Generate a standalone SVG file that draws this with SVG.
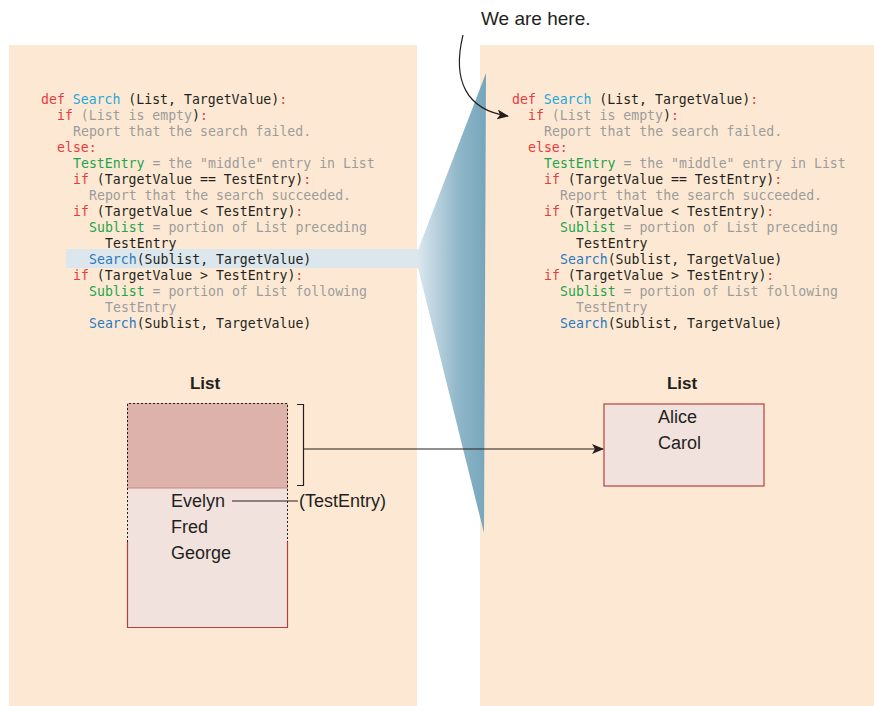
<svg xmlns="http://www.w3.org/2000/svg" width="874" height="706" viewBox="0 0 874 706">
<defs>
<linearGradient id="fun" x1="0" y1="0" x2="1" y2="0">
<stop offset="0" stop-color="#dbe7ef"/>
<stop offset="0.6" stop-color="#8fb6c9"/>
<stop offset="1" stop-color="#76a6bc"/>
</linearGradient>
<marker id="ah" markerWidth="12" markerHeight="10" refX="11" refY="5" orient="auto" markerUnits="userSpaceOnUse">
<path d="M0,0 L12,5 L0,10 L3,5 Z" fill="#231f20"/>
</marker>
<style>
.code{font-family:"DejaVu Sans Mono","Liberation Mono",monospace;font-size:13.2px;fill:#231f20}
.r{fill:#ea3a40}.c{fill:#1fa8dc}.g{fill:#1ba54c}.b{fill:#2a79c0}.k{fill:#9c9c9c}.d{fill:#231f20}
.lbl{font-family:"Liberation Sans",Arial,sans-serif;font-size:18px;fill:#231f20}
.hd{font-family:"Liberation Sans",Arial,sans-serif;font-size:17px;font-weight:bold;fill:#231f20}
.panel{fill:#fde9d3}
</style>
</defs>
<rect width="874" height="706" fill="#ffffff"/>
<rect class="panel" x="9" y="45" width="408" height="661"/>
<rect class="panel" x="480" y="45" width="394" height="661"/>
<rect x="66" y="249" width="352" height="19" fill="#dce6ed"/>
<polygon points="418,250 486,73 484,533 418,268" fill="url(#fun)"/>

<g id="code-left" class="code" xml:space="preserve">
<text x="41" y="104"><tspan class="r">def</tspan> <tspan class="c">Search</tspan> (List, TargetValue)<tspan class="r">:</tspan></text>
<text x="57" y="120"><tspan class="r">if</tspan> <tspan class="k">(List is empty</tspan>)<tspan class="r">:</tspan></text>
<text x="73" y="136" class="k">Report that the search failed.</text>
<text x="57" y="152" class="r">else:</text>
<text x="73" y="168"><tspan class="g">TestEntry</tspan><tspan class="k"> = the "middle" entry in List</tspan></text>
<text x="73" y="184"><tspan class="r">if</tspan> (TargetValue == TestEntry)<tspan class="r">:</tspan></text>
<text x="89" y="200" class="k">Report that the search succeeded.</text>
<text x="73" y="216"><tspan class="r">if</tspan> (TargetValue &lt; TestEntry)<tspan class="r">:</tspan></text>
<text x="89" y="232"><tspan class="g">Sublist</tspan><tspan class="k"> = portion of List preceding</tspan></text>
<text x="105" y="248">TestEntry</text>
<text x="89" y="264"><tspan class="b">Search</tspan>(Sublist, TargetValue)</text>
<text x="73" y="280"><tspan class="r">if</tspan> (TargetValue &gt; TestEntry)<tspan class="r">:</tspan></text>
<text x="89" y="296"><tspan class="g">Sublist</tspan><tspan class="k"> = portion of List following</tspan></text>
<text x="105" y="312" class="k">TestEntry</text>
<text x="89" y="328"><tspan class="b">Search</tspan>(Sublist, TargetValue)</text>
</g>

<g id="code-right" class="code" xml:space="preserve">
<text x="512" y="104"><tspan class="r">def</tspan> <tspan class="c">Search</tspan> (List, TargetValue)<tspan class="r">:</tspan></text>
<text x="528" y="120"><tspan class="r">if</tspan> <tspan class="k">(List is empty</tspan>)<tspan class="r">:</tspan></text>
<text x="544" y="136" class="k">Report that the search failed.</text>
<text x="528" y="152" class="r">else:</text>
<text x="544" y="168"><tspan class="g">TestEntry</tspan><tspan class="k"> = the "middle" entry in List</tspan></text>
<text x="544" y="184"><tspan class="r">if</tspan> (TargetValue == TestEntry)<tspan class="r">:</tspan></text>
<text x="560" y="200" class="k">Report that the search succeeded.</text>
<text x="544" y="216"><tspan class="r">if</tspan> (TargetValue &lt; TestEntry)<tspan class="r">:</tspan></text>
<text x="560" y="232"><tspan class="g">Sublist</tspan><tspan class="k"> = portion of List preceding</tspan></text>
<text x="576" y="248">TestEntry</text>
<text x="560" y="264"><tspan class="b">Search</tspan>(Sublist, TargetValue)</text>
<text x="544" y="280"><tspan class="r">if</tspan> (TargetValue &gt; TestEntry)<tspan class="r">:</tspan></text>
<text x="560" y="296"><tspan class="g">Sublist</tspan><tspan class="k"> = portion of List following</tspan></text>
<text x="576" y="312" class="k">TestEntry</text>
<text x="560" y="328"><tspan class="b">Search</tspan>(Sublist, TargetValue)</text>
</g>

<g id="list-left">
<text class="hd" x="205" y="389" text-anchor="middle">List</text>
<rect x="127" y="403" width="161" height="225" fill="#f2e2de"/>
<rect x="127" y="403" width="161" height="85" fill="#dcb2aa"/>
<line x1="127" y1="488" x2="288" y2="488" stroke="#c98585" stroke-width="1"/>
<path d="M127.5,542 V627.5 H287.5 V542" fill="none" stroke="#b5413f" stroke-width="1.2"/>
<path d="M127.5,542 V403.5 H287.5 V542" fill="none" stroke="#231f20" stroke-width="1" stroke-dasharray="2,2"/>
<text class="lbl" x="171" y="507">Evelyn</text>
<text class="lbl" x="171" y="533">Fred</text>
<text class="lbl" x="171" y="559">George</text>
</g>

<g id="testentry-label">
<text class="lbl" x="299" y="507">(TestEntry)</text>
</g>

<g id="list-right">
<text class="hd" x="682" y="389" text-anchor="middle">List</text>
<rect x="604" y="404" width="160" height="82" fill="#f2e2de" stroke="#b5413f" stroke-width="1.2"/>
<text class="lbl" x="658" y="423">Alice</text>
<text class="lbl" x="658" y="449">Carol</text>
</g>

<g id="we-are-here">
<text class="lbl" x="481" y="25" style="font-size:19px">We are here.</text>
</g>

<g id="connectors" fill="none" stroke="#231f20" stroke-width="1.2">
<line x1="232" y1="501" x2="298" y2="501"/>
<path d="M297,404.5 H303.5 V485.5 H297"/>
<line x1="303" y1="449" x2="603" y2="449" marker-end="url(#ah)"/>
<path d="M463,35 C452,80 466,110 508,116" marker-end="url(#ah)"/>
</g>
</svg>
